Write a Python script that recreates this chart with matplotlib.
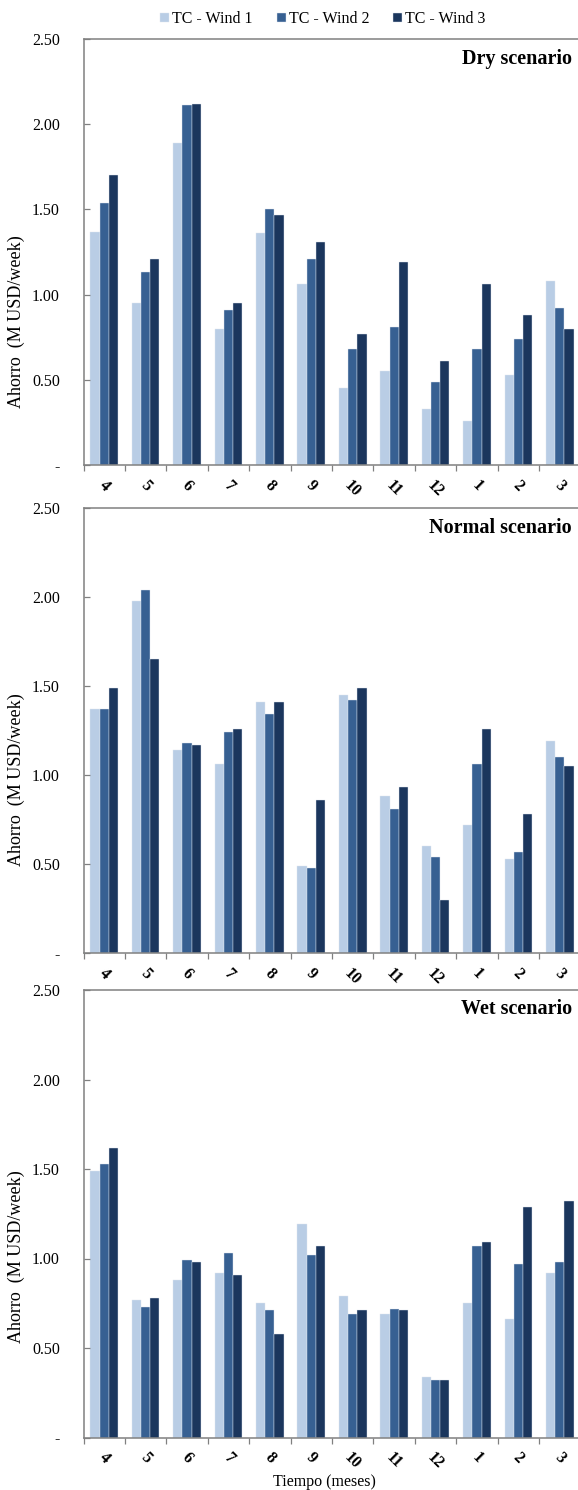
import matplotlib
matplotlib.use("Agg")
import matplotlib.pyplot as plt
import numpy as np

# Meses (abril a marzo)
months = ["4", "5", "6", "7", "8", "9", "10", "11", "12", "1", "2", "3"]
series_names = ["TC - Wind 1", "TC - Wind 2", "TC - Wind 3"]

# Ahorro (M USD/week) por escenario
dry_w1 = [1.37, 0.95, 1.89, 0.80, 1.36, 1.06, 0.45, 0.55, 0.33, 0.26, 0.53, 1.08]
dry_w2 = [1.54, 1.13, 2.11, 0.91, 1.50, 1.21, 0.68, 0.81, 0.49, 0.68, 0.74, 0.92]
dry_w3 = [1.70, 1.21, 2.12, 0.95, 1.47, 1.31, 0.77, 1.19, 0.61, 1.06, 0.88, 0.80]

normal_w1 = [1.37, 1.98, 1.14, 1.06, 1.41, 0.49, 1.45, 0.88, 0.60, 0.72, 0.53, 1.19]
normal_w2 = [1.37, 2.04, 1.18, 1.24, 1.34, 0.48, 1.42, 0.81, 0.54, 1.06, 0.57, 1.10]
normal_w3 = [1.49, 1.65, 1.17, 1.26, 1.41, 0.86, 1.49, 0.93, 0.30, 1.26, 0.78, 1.05]

wet_w1 = [1.49, 0.77, 0.88, 0.92, 0.75, 1.19, 0.79, 0.69, 0.34, 0.75, 0.66, 0.92]
wet_w2 = [1.53, 0.73, 0.99, 1.03, 0.71, 1.02, 0.69, 0.72, 0.32, 1.07, 0.97, 0.98]
wet_w3 = [1.62, 0.78, 0.98, 0.91, 0.58, 1.07, 0.71, 0.71, 0.32, 1.09, 1.29, 1.32]

scenarios = [
    ("Dry scenario", [dry_w1, dry_w2, dry_w3]),
    ("Normal scenario", [normal_w1, normal_w2, normal_w3]),
    ("Wet scenario", [wet_w1, wet_w2, wet_w3]),
]

colors = ["#B9CDE5", "#376092", "#1B365D"]
ytick_vals = [0, 0.5, 1.0, 1.5, 2.0, 2.5]
ytick_labels = ["-", "0.50", "1.00", "1.50", "2.00", "2.50"]

plt.rcParams["font.family"] = ["Liberation Serif", "DejaVu Serif"]

W, H = 578, 1490
fig = plt.figure(figsize=(W / 100, H / 100), dpi=100)

# (top, bottom, centro del ylabel) de cada panel en pixeles
panel_px = [(39, 465, 322), (508, 953, 780), (990, 1437.5, 1257)]
left_px, right_px = 83.5, 580.5

x = np.arange(len(months))
bw = 0.222

axes = []
for (title, vals), (top, bot, ylab_c) in zip(scenarios, panel_px):
    ax = fig.add_axes([left_px / W, 1 - bot / H, (right_px - left_px) / W, (bot - top) / H])
    axes.append(ax)
    for k, (v, c) in enumerate(zip(vals, colors)):
        ax.bar(x + (k - 1) * bw, v, bw, color=c, edgecolor="#dfe6ef", linewidth=0.3,
               label=series_names[k])
    ax.set_xlim(-0.5, len(months) - 0.5)
    ax.set_ylim(0, 2.5)
    ax.set_yticks(ytick_vals)
    ax.set_yticklabels(ytick_labels, fontsize=11.5)
    ax.set_xticks(x)
    ax.set_xticklabels(months, fontsize=11.5, fontweight="bold", rotation=-45)
    ax.set_xticks(np.arange(len(months) + 1) - 0.5, minor=True)
    ax.tick_params(axis="x", which="major", length=0, pad=9)
    ax.tick_params(axis="x", which="minor", length=4, direction="out", color="#808080", width=0.9)
    ax.tick_params(axis="y", direction="in", length=4, color="#808080", width=0.9, pad=17)
    for s in ["left", "top", "bottom"]:
        ax.spines[s].set_color("#808080")
        ax.spines[s].set_linewidth(1.1)
    ax.spines["right"].set_visible(False)
    ax.set_ylabel("Ahorro  (M USD/week)", fontsize=13)
    ax.yaxis.set_label_coords((25 - left_px) / (right_px - left_px), (bot - ylab_c) / (bot - top))
    ax.text((572 - left_px) / (right_px - left_px), 1 - 24.5 / (bot - top), title,
            transform=ax.transAxes, ha="right", va="baseline", fontsize=14.5, fontweight="bold")

handles, labels = axes[0].get_legend_handles_labels()
fig.legend(handles, labels, loc="center", bbox_to_anchor=(323 / W, 1 - 19 / H), ncol=3,
           frameon=False, fontsize=11.5, handlelength=0.55, handleheight=0.55,
           handletextpad=0.2, columnspacing=1.5)

fig.text(324 / W, 1 - 1482 / H, "Tiempo (meses)", ha="center", va="center", fontsize=11.5)

plt.savefig("out.png", dpi=100)
